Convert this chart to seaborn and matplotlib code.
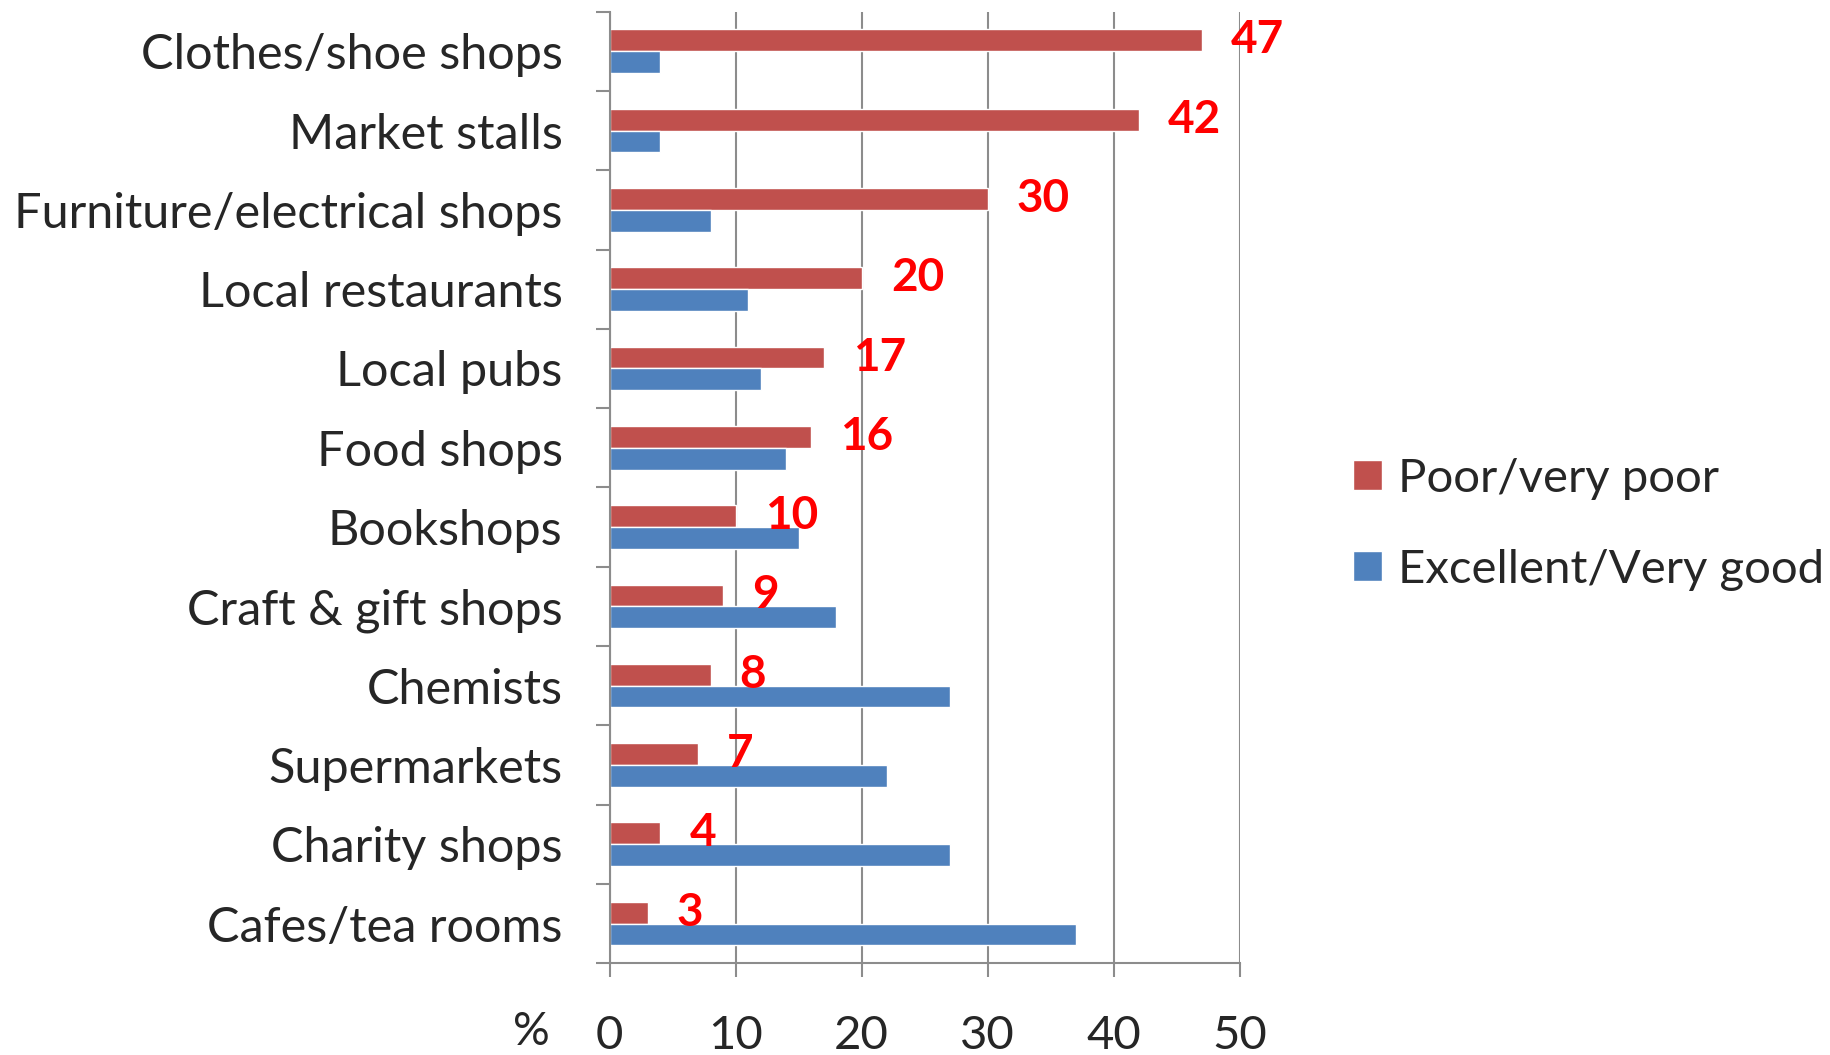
"""
Ratings of local shops and services: poor vs excellent, horizontal bars
"""

import matplotlib
matplotlib.use("Agg")
import matplotlib.pyplot as plt
import seaborn as sns
import pandas as pd
import numpy as np

# data
categories = ["Clothes/shoe shops", "Market stalls", "Furniture/electrical shops",
              "Local restaurants", "Local pubs", "Food shops", "Bookshops",
              "Craft & gift shops", "Chemists", "Supermarkets", "Charity shops",
              "Cafes/tea rooms"]
poor = [47, 42, 30, 20, 17, 16, 10, 9, 8, 7, 4, 3]
excellent = [4, 4, 8, 11, 12, 14, 15, 18, 27, 22, 27, 37]
series_names = ["Poor/very poor", "Excellent/Very good"]
x_ticks = [0, 10, 20, 30, 40, 50]

RED = "#C0504D"
BLUE = "#4F81BD"
GRID = "#8C8C8C"


def build_frame():
    df = pd.DataFrame({"category": categories * 2,
                       "value": poor + excellent,
                       "series": [series_names[0]] * len(poor) + [series_names[1]] * len(excellent)})
    return df


def draw(df):
    sns.set_style("white")
    plt.rcParams["font.family"] = ["Lato", "DejaVu Sans"]

    fig = plt.figure(figsize=(18.31, 10.55), dpi=100)
    ax = fig.add_axes([0.333, 0.087, 0.344, 0.902])

    sns.barplot(data=df, x="value", y="category", hue="series", order=categories,
                hue_order=series_names, palette=[RED, BLUE], orient="h",
                width=0.55, saturation=1, ax=ax, legend=True)

    # value labels only for the red series
    ax.bar_label(ax.containers[0], labels=[str(v) for v in poor], padding=21,
                 color="#FF0000", fontsize=33, fontweight="bold")

    ax.set_xlim(0, 50)
    ax.set_ylim(len(categories) - 0.5, -0.5)
    ax.set_xticks(x_ticks)
    ax.set_xticklabels([str(t) for t in x_ticks], fontsize=34)
    ax.tick_params(axis="x", length=10, width=1.5, color=GRID, pad=27, bottom=True)

    ax.set_yticks(np.arange(len(categories)))
    ax.set_yticklabels(categories, fontsize=35)
    ax.set_yticks(np.arange(len(categories) + 1) - 0.5, minor=True)
    ax.tick_params(axis="y", which="major", length=0, pad=34)
    ax.tick_params(axis="y", which="minor", length=10, width=1.5, color=GRID, left=True)

    ax.set_xlabel("")
    ax.set_ylabel("")
    ax.xaxis.grid(True, color=GRID, linewidth=1.5)
    ax.set_axisbelow(True)
    for side in ["top", "right"]:
        ax.spines[side].set_visible(False)
    for side in ["left", "bottom"]:
        ax.spines[side].set_color(GRID)
        ax.spines[side].set_linewidth(1.5)

    # little % sign to the left of the x tick labels
    fig.text(0.290, 0.002, "%", fontsize=33, ha="center", va="bottom")

    ax.legend(loc="center left", bbox_to_anchor=(0.716, 0.503),
              bbox_transform=fig.transFigure, frameon=False, fontsize=34,
              handlelength=0.6, handleheight=0.6, handletextpad=0.35,
              labelspacing=1.05)

    fig.savefig("out.png", dpi=100)


def main():
    df = build_frame()
    draw(df)


if __name__ == "__main__":
    main()
